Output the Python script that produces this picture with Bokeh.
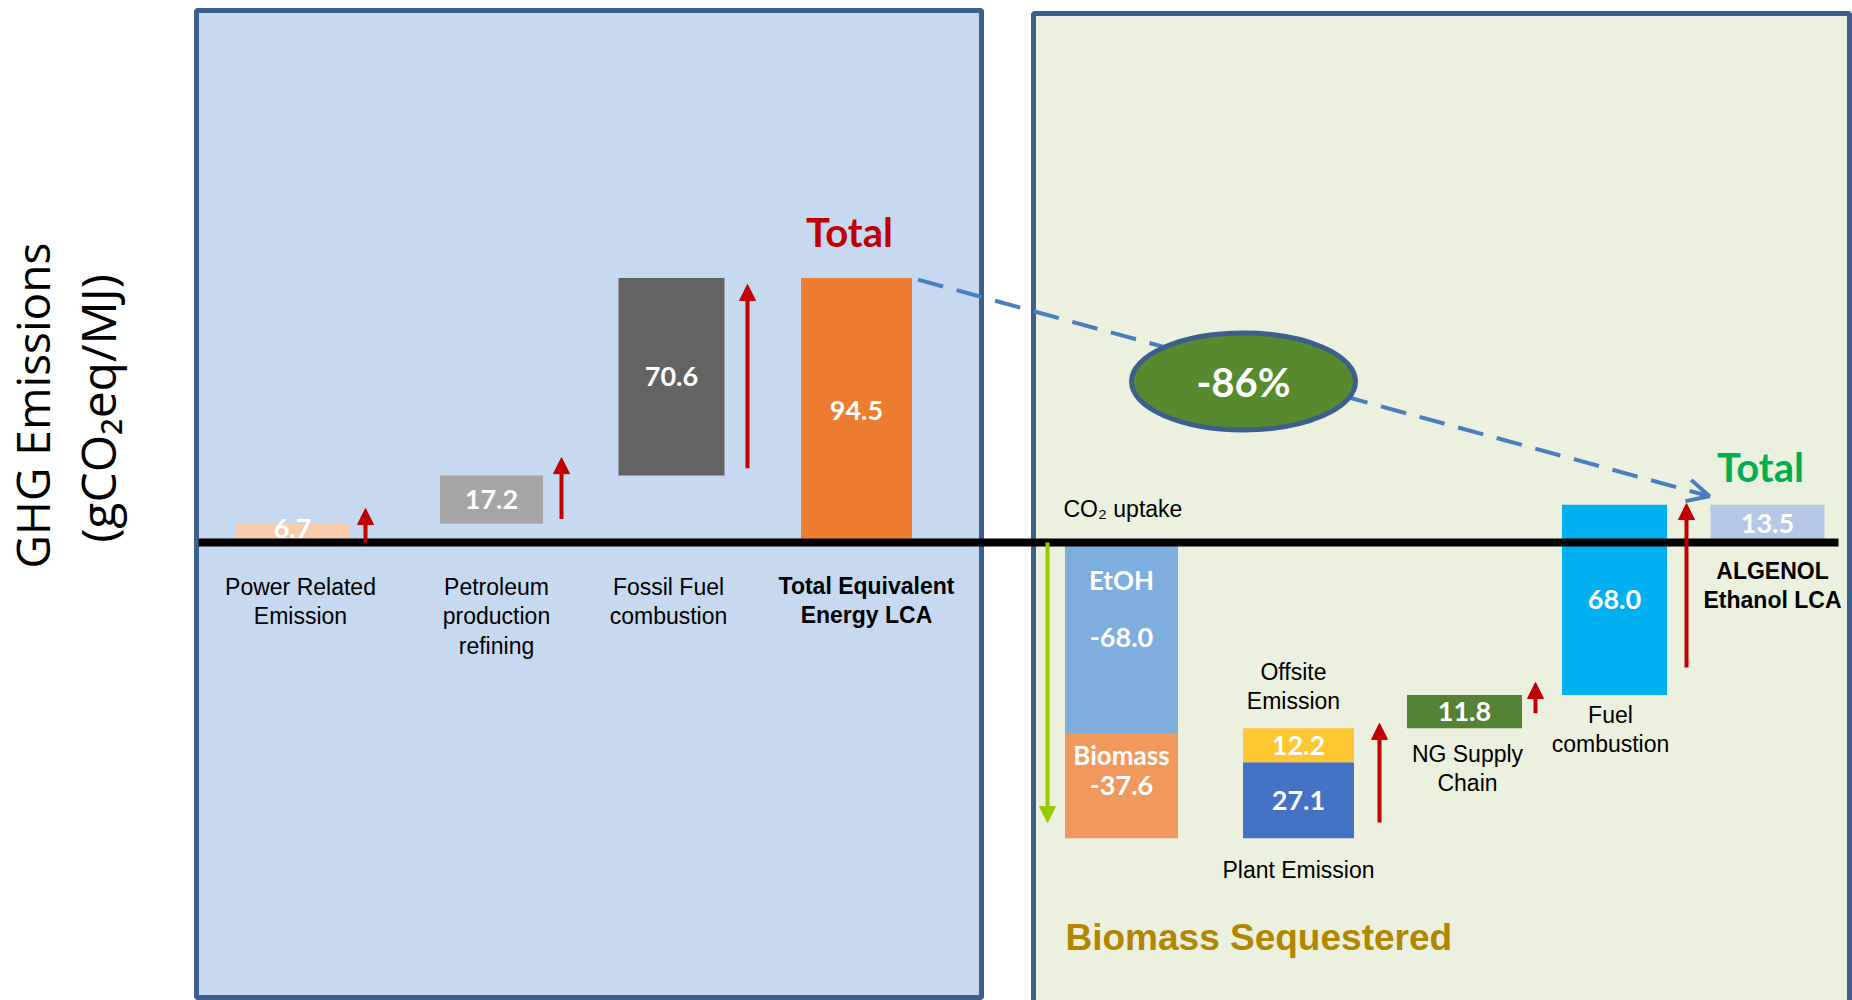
import math
from bokeh.plotting import figure
from bokeh.models import Range1d, Arrow, NormalHead, OpenHead, ColumnDataSource
from bokeh.core.properties import value
from bokeh.embed import file_html
from bokeh.resources import INLINE

# ---------------- data ----------------
# Conventional gasoline (left panel) - waterfall steps then total
conv_labels = ["Power Related\nEmission", "Petroleum\nproduction\nrefining", "Fossil Fuel\ncombustion"]
conv_steps = [6.7, 17.2, 70.6]
conv_colors = ["#F8CBAD", "#A5A5A5", "#636363"]
conv_total_label = "Total Equivalent\nEnergy LCA"
conv_total = 94.5

# Algenol ethanol (right panel) - waterfall steps then total
alg_names = ["EtOH", "Biomass", "Plant Emission", "Offsite\nEmission", "NG Supply\nChain", "Fuel\ncombustion"]
alg_steps = [-68.0, -37.6, 27.1, 12.2, 11.8, 68.0]
alg_colors = ["#7EAEDE", "#F1995C", "#4472C4", "#FFC832", "#548235", "#00B0F0"]
alg_total_label = "ALGENOL\nEthanol LCA"
alg_total = 13.5

reduction_label = "-86%"

# arrows (start, end) in gCO2eq/MJ
red_arrows = [(0.0, 12.1), (8.4, 30.3), (26.5, 92.1), (-100.0, -64.6), (-61.0, -50.0), (-44.6, 13.9)]
uptake_arrow = (0.0, -100.0)

# ---------------- layout ----------------
W, H = 1852, 1000
BASE_PX = 542.0      # pixel row of the zero line
K = 2.8              # pixels per gCO2eq/MJ


def yd(py):
    return (BASE_PX - py) / K


p = figure(width=W, height=H, output_backend="svg", toolbar_location=None,
           x_range=Range1d(0, W), y_range=Range1d(yd(H), yd(0)),
           min_border=0, background_fill_color="white", border_fill_color="white")
p.axis.visible = False
p.grid.visible = False
p.outline_line_color = None

# panels
p.quad(left=[196, 1033], right=[981, 1849], top=[yd(10), yd(13)], bottom=[yd(997), yd(1003)],
       fill_color=["#C6D9F0", "#EBF0DF"], line_color="#3D5F8D", line_width=5)

# ---------- bars ----------
conv_x = [292, 491, 671]
conv_w = [113, 103, 106]
tot_x, tot_w = 856, 111
alg_x = [1121, 1121, 1298, 1298, 1464, 1614]
alg_w = [113, 113, 111, 111, 115, 105]
algt_x, algt_w = 1767, 114

# conventional waterfall
cb, ct = [], []
run = 0.0
for v in conv_steps:
    cb.append(run)
    run += v
    ct.append(run)
cmid = [(a + b) / 2 for a, b in zip(cb + [0.0], ct + [conv_total])]
cmid[0] = cmid[0] + 1.8   # small bar: label sits a little higher
src_c = ColumnDataSource(dict(x=conv_x + [tot_x], w=conv_w + [tot_w],
                              bottom=cb + [0.0], top=ct + [conv_total],
                              color=conv_colors + ["#ED7D31"], mid=cmid,
                              lab=["%.1f" % v for v in conv_steps + [conv_total]]))
p.vbar(x="x", width="w", bottom="bottom", top="top", fill_color="color", line_color=None, source=src_c)

# algenol waterfall
ab, at = [], []
run = 0.0
for v in alg_steps:
    ab.append(run)
    run += v
    at.append(run)
src_a = ColumnDataSource(dict(x=alg_x + [algt_x], w=alg_w + [algt_w],
                              bottom=ab + [0.0], top=at + [alg_total],
                              color=alg_colors + ["#B4C7E7"],
                              mid=[(a + b) / 2 for a, b in zip(ab + [0.0], at + [alg_total])],
                              lab=["%.1f" % v for v in alg_steps + [alg_total]]))
p.vbar(x="x", width="w", bottom="bottom", top="top", fill_color="color", line_color=None, source=src_a)

# value labels in bars
for src in (src_c, src_a):
    p.text(x="x", y="mid", text="lab", source=src, text_color="white", text_font=value("Lato"),
           text_font_style="bold", text_font_size="27px", text_align="center", text_baseline="middle")

# bar names inside EtOH / Biomass bars
p.text(x=[alg_x[0], alg_x[1]], y=[(ab[0] + at[0]) / 2 + 20.5, (ab[1] + at[1]) / 2 + 11.0],
       text=[alg_names[0], alg_names[1]], text_color="white", text_font=value("Lato"),
       text_font_style="bold", text_font_size="26px", text_align="center", text_baseline="middle")

# baseline
p.segment(x0=[198], x1=[1838], y0=[0], y1=[0], line_color="black", line_width=8)

# red arrows
red_x = [365, 561, 747, 1379, 1535, 1686]
for xx, (s, e) in zip(red_x, red_arrows):
    p.add_layout(Arrow(x_start=xx, y_start=s, x_end=xx, y_end=e, line_color="#C00000", line_width=4,
                       end=NormalHead(size=16, fill_color="#C00000", line_color="#C00000", line_width=1)))
# CO2 uptake arrow
p.add_layout(Arrow(x_start=1047, y_start=uptake_arrow[0], x_end=1047, y_end=uptake_arrow[1],
                   line_color="#99CC00", line_width=4,
                   end=NormalHead(size=16, fill_color="#99CC00", line_color="#99CC00", line_width=1)))

# dashed reduction arrow from conventional total to algenol total
x0, y0 = tot_x + tot_w / 2 + 6, conv_total - 0.6
x1, y1 = algt_x - algt_w / 2 - 1, alg_total + 3.0
p.segment(x0=[x0], y0=[y0], x1=[x1], y1=[y1], line_color="#4A7EBE", line_width=4, line_dash="26 14")
dxp, dyp = x1 - x0, (y1 - y0) * K
L = math.hypot(dxp, dyp)
p.add_layout(Arrow(x_start=x1 - dxp / L * 4, y_start=y1 - (y1 - y0) / L * 4, x_end=x1, y_end=y1,
                   line_color="#4A7EBE", line_width=4,
                   end=OpenHead(size=22, line_color="#4A7EBE", line_width=4)))

# ellipse
ex, ey = 1243, yd(381)
p.ellipse(x=[ex], y=[ey], width=[224], height=[97], width_units="screen", height_units="screen",
          fill_color="#578A2E", line_color="#3D5F8D", line_width=5)
p.text(x=[ex], y=[ey], text=[reduction_label], text_color="white", text_font=value("Lato"),
       text_font_style="bold", text_font_size="40px", text_align="center", text_baseline="middle")

# "Total" headers
p.text(x=[849], y=[yd(231)], text=["Total"], text_color="#C00000", text_font=value("Lato"),
       text_font_style="bold", text_font_size="40px", text_align="center", text_baseline="middle")
p.text(x=[1760], y=[yd(466)], text=["Total"], text_color="#00B050", text_font=value("Lato"),
       text_font_style="bold", text_font_size="40px", text_align="center", text_baseline="middle")

# category labels (normal)
cat_font = value("Liberation Sans")
p.text(x=[300, 496, 668], y=[yd(573)] * 3, text=conv_labels, text_color="black", text_font=cat_font,
       text_font_size="23px", text_align="center", text_baseline="top", text_line_height=1.14)
p.text(x=[1293, 1298, 1467, 1610], y=[yd(658), yd(856), yd(740), yd(701)],
       text=[alg_names[3], alg_names[2], alg_names[4], alg_names[5]], text_color="black", text_font=cat_font,
       text_font_size="23px", text_align="center", text_baseline="top", text_line_height=1.14)
# bold totals
p.text(x=[866, 1772], y=[yd(572), yd(557)], text=[conv_total_label, alg_total_label], text_color="black",
       text_font=cat_font, text_font_style="bold", text_font_size="23px", text_align="center",
       text_baseline="top", text_line_height=1.14)

p.text(x=[1063], y=[yd(508)], text=["CO\u2082 uptake"], text_color="black", text_font=cat_font,
       text_font_size="23px", text_align="left", text_baseline="middle")
p.text(x=[1065], y=[yd(937)], text=["Biomass Sequestered"], text_color="#B38600", text_font=cat_font,
       text_font_style="bold", text_font_size="37px", text_align="left", text_baseline="middle")

# y-axis title
p.text(x=[31, 97], y=[yd(405), yd(408)], text=["GHG Emissions", "(gCO\u2082eq/MJ)"], angle=math.pi / 2,
       text_color="black", text_font=value("Open Sans"), text_font_size=["46px", "48px"],
       text_align="center", text_baseline="middle")

open("out.html", "w").write(file_html(p, INLINE))
